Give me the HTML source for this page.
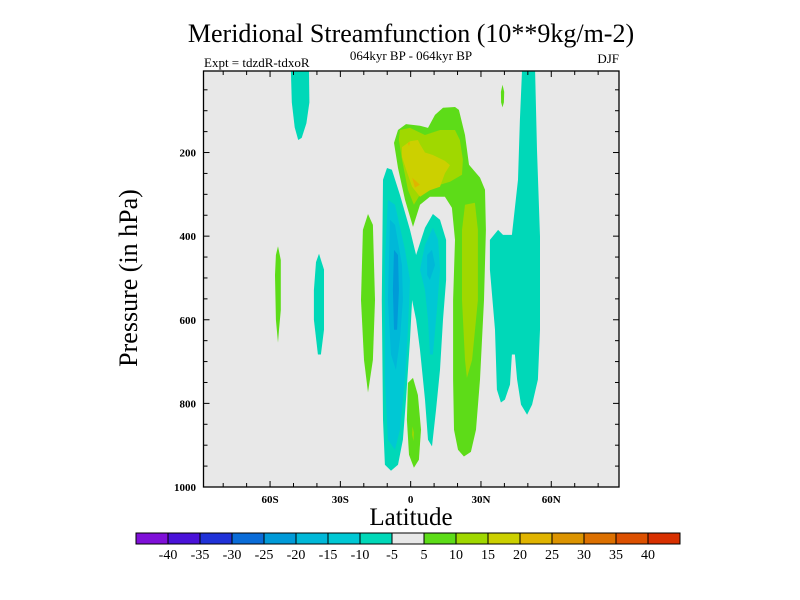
<!DOCTYPE html>
<html><head><meta charset="utf-8"><style>
body{margin:0;background:#fff;width:800px;height:600px;overflow:hidden}
svg{display:block;font-family:"Liberation Serif",serif}
</style></head><body>
<svg id="chart" width="800" height="600" viewBox="0 0 800 600">
<text x="411" y="42" font-size="26" text-anchor="middle">Meridional Streamfunction (10**9kg/m-2)</text>
<text x="411" y="60" font-size="13" text-anchor="middle">064kyr BP - 064kyr BP</text>
<text x="204" y="67" font-size="13">Expt = tdzdR-tdxoR</text>
<text x="619" y="63" font-size="13" text-anchor="end">DJF</text>
<text transform="translate(137,278) rotate(-90)" font-size="26" text-anchor="middle">Pressure (in hPa)</text>
<text x="411" y="525" font-size="25" text-anchor="middle">Latitude</text>
<g id="plot"></g>
<g id="cbar"></g>
</svg>
<script>
const levels=[-40,-35,-30,-25,-20,-15,-10,-5,5,10,15,20,25,30,35,40];
const colors=["#7f10d8","#4a12d9","#2032d8","#0a6cd8","#009ad8","#00b8d8","#00c8d4","#00d8b8","#e8e8e8","#5ddc18","#a0d800","#ccd000","#e0b400","#dc9400","#dc7000","#dc5000","#d83000"];
const latTicks=[-60,-30,0,30,60];
const latTickLabels=["60S","30S","0","30N","60N"];
const presTicks=[200,400,600,800,1000];
const regionLevels=[-7.5,-7.5,7.5,7.5,12.5,17.5,22.5,22.5,12.5,-7.5,-12.5,-12.5,-17.5,-17.5,-22.5,7.5,12.5,7.5,-7.5,7.5];
const regionLats=[
[-51.1,-43.4,-43.2,-44.5,-46.5,-48,-49.5,-50.7],
[47.5,53.1,53.9,55.2,55.2,54.3,51.8,49.7,47.1,45.4,44.5,43.2,42.4,40.2,38.5,36.8,36.0,33.8,33.8,37.3,39.4,43.2,45.8,46.6],
[39.2,39.9,39.8,39.2,38.6,38.5],
[1.0,-2.4,-5.4,-7.1,-5.4,-2.0,4.0,7.4,10.4,13.8,18.9,20.6,23.2,24.9,29.6,31.7,32.1,31.3,29.6,27.9,25.7,22.7,20.2,18.5,18.1,18.1,18.9,17.6,14.6,8.2,4.0],
[-5.0,-4.6,-0.3,6.1,12.5,18.9,21.0,22.3,21.9,16.8,12.5,8.2,4.0,1.4,-1.2,-3.7],
[-3.7,-0.3,3.1,4.0,6.1,9.5,14.6,16.8,14.6,12.5,8.2,4.0,0.6,-2.0,-3.7],
[0.6,4.0,1.8],
[-1.2,-0.3,-0.7],
[23.2,27.4,28.7,28.7,26.2,24.0,23.2,21.9,21.9],
[-11.8,-10.1,-8.0,-4.6,-0.3,2.3,6.1,9.5,12.5,15.1,15.1,13.8,12.5,10.8,9.1,7.4,6.1,4.0,2.3,0.6,-0.3,-2.0,-3.3,-5.4,-8.4,-11.0,-11.8,-12.3],
[-9.7,-6.7,-2.4,-0.3,-1.2,-2.4,-4.6,-6.7,-9.7,-11.0,-11.0],
[6.1,9.5,11.7,12.5,11.2,9.5,8.2,7.4,6.1,4.0],
[-8.8,-6.7,-3.7,-3.3,-4.6,-6.3,-8.4,-9.7],
[7.0,9.1,10.4,8.2,7.0],
[-7.1,-5.4,-5.0,-5.8,-7.1,-7.6],
[-1.2,1.0,3.1,4.4,3.5,1.4,-0.7,-1.6],
[0.8,1.4,1.2,0.6],
[-21.2,-20.4,-18.2,-16.1,-15.2,-16.1,-18.2,-19.9],
[-39.1,-37.0,-37.0,-38.3,-39.6,-41.3,-41.3,-40.4],
[-56.6,-55.4,-55.4,-56.2,-56.6,-57.5,-57.9,-57.5]
];
const regionPres=[
[5,5,80,130,165,170,140,80],
[5,5,194,401,624,743,803,827,803,743,683,683,755,791,798,767,624,480,409,385,397,397,265,122],
[38,55,80,92,80,55],
[378,313,237,177,146,132,136,141,110,93,91,98,158,229,260,289,385,553,743,863,916,927,911,863,743,553,409,332,306,306,325],
[170,146,141,158,146,146,170,217,253,270,277,280,301,325,289,217],
[187,173,170,180,200,206,220,230,250,282,290,306,282,240,210],
[260,277,284],
[177,175,185],
[325,320,385,553,696,739,696,553,385],
[265,237,241,301,385,445,380,347,361,409,505,600,720,816,903,887,791,672,600,553,648,791,887,947,961,947,839,553],
[313,325,433,505,624,743,863,911,887,743,457],
[421,380,409,480,577,683,683,600,529,480],
[361,373,469,553,648,720,683,553],
[445,433,469,505,493],
[433,445,529,624,624,529],
[751,739,780,863,935,954,923,839],
[855,870,890,875],
[553,385,347,373,553,696,774,696],
[442,480,624,683,683,600,529,462],
[424,457,577,624,655,600,493,445]
];
const L=203.5,R=619,T=71,B=487,latMin=-88.4,latMax=88.9,pMin=5,pMax=1000;
const x=v=>L+(v-latMin)/(latMax-latMin)*(R-L);
const y=p=>T+(p-pMin)/(pMax-pMin)*(B-T);
const NS="http://www.w3.org/2000/svg";
function mk(tag,attrs,parent){const e=document.createElementNS(NS,tag);for(const k in attrs)e.setAttribute(k,attrs[k]);parent.appendChild(e);return e;}
function colorFor(v){let i=0;while(i<levels.length&&v>levels[i])i++;return colors[i];}
const plot=document.getElementById('plot');
const bg=mk('rect',{x:L,y:T,width:R-L,height:B-T,fill:"#e8e8e8"},plot);


regionLevels.forEach((lv,i)=>{
  const pts=regionLats[i].map((la,j)=>x(la).toFixed(1)+","+y(regionPres[i][j]).toFixed(1)).join(" ");
  const pg=mk('polygon',{points:pts,fill:colorFor(lv)},plot);
  
  
});
const frame=mk('rect',{x:L,y:T,width:R-L,height:B-T,fill:"none",stroke:"#000","stroke-width":1.3},plot);


for(let la=-80;la<=80;la+=10){
  const maj=latTicks.includes(la);const len=maj?6:4;
  const t1=mk('line',{x1:x(la),x2:x(la),y1:B,y2:B-len,stroke:"#000"},plot);
  
  
  const t2=mk('line',{x1:x(la),x2:x(la),y1:T,y2:T+len,stroke:"#000"},plot);
  
  
}
latTicks.forEach((la,i)=>{
  const t=mk('text',{x:x(la),y:503,"font-size":11,"font-weight":"bold","text-anchor":"middle"},plot);
  t.textContent=latTickLabels[i];
  
  
});
for(let p=50;p<=1000;p+=50){
  const maj=presTicks.includes(p);const len=maj?6:4;
  const t1=mk('line',{x1:L,x2:L+len,y1:y(p),y2:y(p),stroke:"#000"},plot);
  
  
  const t2=mk('line',{x1:R,x2:R-len,y1:y(p),y2:y(p),stroke:"#000"},plot);
  
  
}
presTicks.forEach(p=>{
  const t=mk('text',{x:196,y:y(p)+4,"font-size":11,"font-weight":"bold","text-anchor":"end"},plot);
  t.textContent=String(p);
  
  
});
const cb=document.getElementById('cbar');
const cbL=136,cbW=544,cbT=533,cbH=11,bw=cbW/colors.length;
colors.forEach((c,i)=>{
  const r=mk('rect',{x:cbL+i*bw,y:cbT,width:bw,height:cbH,fill:c,stroke:"#000","stroke-width":1},cb);
  
  
});
levels.forEach((lv,i)=>{
  const t=mk('text',{x:cbL+(i+1)*bw,y:559,"font-size":14,"text-anchor":"middle"},cb);
  t.textContent=String(lv);
  
  
});
</script>
</body></html>
